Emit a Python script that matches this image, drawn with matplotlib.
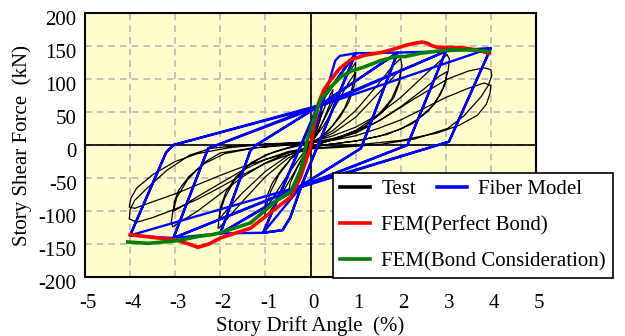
import matplotlib
matplotlib.use("Agg")
import matplotlib.pyplot as plt
import matplotlib.transforms as mtransforms
from matplotlib.lines import Line2D

plt.rcParams['font.family'] = ['Liberation Serif', 'DejaVu Serif']

# ---- data (drift %, shear kN) ----
test_x = [0, 0.1, 0.2, 0.25, 0.2, 0.1, 0, -0.1, -0.2, -0.25, -0.2, -0.1, 0,
          0.15, 0.3, 0.45, 0.5, 0.45, 0.3, 0.15, 0, -0.15, -0.3, -0.45, -0.5, -0.45, -0.3, -0.15, 0,
          0.25, 0.5, 0.75, 0.95, 1.0, 0.98, 0.9, 0.75, 0.5, 0.25, 0, -0.25, -0.5, -0.75, -0.95, -1.02,
          -0.98, -0.88, -0.7, -0.45, -0.2, 0,
          0.3, 0.6, 0.85, 1.0, 0.97, 0.85, 0.65, 0.4, 0.15, -0.05, -0.3, -0.6, -0.85, -1.02, -0.98,
          -0.85, -0.65, -0.4, -0.15, 0,
          0.5, 1.0, 1.5, 1.8, 2.0, 2.03, 1.96, 1.8, 1.5, 1.0, 0.5, 0, -0.5, -1.0, -1.5, -1.8, -2.0,
          -2.05, -2.02, -1.9, -1.7, -1.4, -1.0, -0.5, 0,
          0.5, 1.0, 1.5, 1.85, 2.0, 1.98, 1.85, 1.6, 1.2, 0.6, 0, -0.5, -1.0, -1.5, -1.85, -2.02,
          -2.0, -1.88, -1.65, -1.3, -0.8, -0.3, 0,
          0.5, 1.0, 1.5, 2.0, 2.5, 2.85, 3.03, 3.08, 3.05, 2.95, 2.75, 2.4, 2.0, 1.5, 1.0, 0.3,
          -0.5, -1.0, -1.5, -2.0, -2.5, -2.9, -3.05, -3.09, -3.05, -2.96, -2.73, -2.37, -2.0,
          -1.33, -0.5, 0,
          0.5, 1.0, 1.5, 2.0, 2.5, 2.85, 3.02, 3.0, 2.87, 2.62, 2.25, 1.7, 1.0, 0.3, -0.5, -1.0,
          -1.5, -2.0, -2.5, -2.85, -3.03, -3.02, -2.92, -2.7, -2.35, -1.9, -1.2, -0.5, 0,
          0.5, 1.0, 1.56, 2.3, 3.04, 3.5, 3.85, 4.0, 4.02, 3.94, 3.78, 3.4, 3.04, 2.3, 1.56, 0.8,
          0, -0.5, -1.0, -1.5, -2.0, -2.5, -3.0, -3.5, -3.85, -4.02, -4.0, -3.9, -3.6, -3.18,
          -2.67, -2.2, -1.5, -0.5, 0,
          0.5, 1.0, 1.5, 2.0, 2.5, 3.0, 3.5, 3.85, 4.0, 3.98, 3.9, 3.7, 3.3, 2.8, 2.0, 1.0, 0,
          -0.5, -1.0, -1.5, -2.0, -2.5, -3.0, -3.5, -3.9, -4.02, -3.98, -3.85, -3.5, -3.0, -2.5,
          -1.8, -1.0, 0]
test_y = [0, 25, 45, 52, 35, 15, 2, -22, -42, -48, -32, -12, 0,
          28, 55, 78, 84, 65, 40, 18, 3, -26, -50, -70, -76, -58, -35, -15, 0,
          32, 65, 97, 120, 125, 105, 80, 55, 30, 12, 0, -28, -58, -86, -105, -110,
          -92, -70, -45, -22, -8, 2,
          30, 65, 95, 110, 90, 65, 42, 22, 8, -2, -25, -55, -82, -98, -80,
          -58, -38, -18, -5, 3,
          22, 52, 92, 118, 131, 120, 95, 70, 45, 22, 8, -2, -20, -48, -85, -108, -124,
          -126, -105, -80, -55, -32, -15, -5, 3,
          18, 42, 78, 104, 115, 95, 72, 50, 28, 10, -2, -16, -40, -72, -98, -112,
          -95, -72, -48, -26, -10, 0, 4,
          14, 27, 46, 72, 104, 126, 137, 130, 112, 88, 62, 40, 24, 13, 6, 0,
          -12, -27, -48, -74, -100, -117, -124, -118, -100, -79, -53, -27, -12,
          -5, 0, 3,
          10, 20, 36, 58, 84, 104, 111, 95, 75, 52, 32, 16, 6, 0, -10, -22,
          -38, -58, -78, -93, -100, -86, -68, -48, -28, -13, -4, 1, 3,
          8, 18, 38, 70, 100, 112, 117, 114, 105, 90, 73, 44, 25, 9, 1, -3,
          -6, -15, -28, -45, -64, -82, -97, -110, -117, -112, -98, -84, -64, -38,
          -15, -5, 0, 3, 5,
          7, 14, 25, 38, 55, 72, 86, 94, 90, 78, 62, 45, 30, 18, 7, 0, -5,
          -12, -22, -33, -46, -60, -74, -86, -96, -94, -80, -65, -45, -25, -13,
          -4, 1, 4]

fiber_x = [0, 0.55, 0.65, 1.0, -0.2, -0.45, -0.62, -1.05, 0.15,
           1.0, -0.22, -1.05, 0.18,
           1.0, 1.93, 1.12, -0.2, -0.45, -0.62, -1.05, -2.0, -1.33, -1.2, 0.12,
           1.93, 1.12, -0.18, -2.0, -1.33, -1.2, 0.15,
           1.93, 3.0, 2.15, -0.22, -2.0, -3.04, -2.27, -2.07, 0.18,
           3.0, 2.15, -0.2, -3.04, -2.27, -2.07, 0.12,
           3.0, 4.0, 3.07, -0.22, -3.04, -4.0, -3.2, -3.04, 0.15,
           4.0, 3.07, -0.2, -4.0, -3.2, -3.04, 0.18]
fiber_y = [0, 128, 135, 139, -62, -110, -129, -133, 58,
           139, -64, -133, 60,
           139, 140, -5, -62, -110, -129, -133, -134, -8, 0, 56,
           140, -5, -60, -134, -8, 0, 58,
           140, 142, 0, -64, -134, -141, -5, 0, 60,
           142, 0, -62, -141, -5, 0, 56,
           142, 147, 5, -64, -141, -137, -11, 0, 58,
           147, 5, -62, -137, -11, 0, 60]

perfect_x = [-4.0, -3.5, -2.96, -2.7, -2.5, -2.25, -2.0, -1.33, -0.73, -0.44, -0.22, 0.0,
             0.08, 0.18, 0.3, 0.44, 0.65, 0.89, 1.2, 1.56, 1.78, 2.11, 2.3, 2.48, 2.6, 2.67,
             2.81, 3.1, 3.4, 3.7, 3.96]
perfect_y = [-136, -140, -144, -150, -155, -150, -141, -126, -94, -79, -48, -3,
             30, 64, 84, 98, 116, 129, 136, 140, 144, 151, 154, 156, 154, 151,
             148, 148, 147, 144, 139]

bond_x = [-4.05, -3.6, -2.96, -2.44, -2.2, -2.0, -1.33, -0.73, -0.44, -0.22, -0.07, 0.1,
          0.22, 0.45, 0.67, 0.9, 1.18, 1.56, 1.89, 2.1, 2.44, 2.8, 3.04, 3.5, 3.96]
bond_y = [-147, -149, -145, -138, -136, -133, -118, -83, -71, -38, 8, 45,
          68, 88, 103, 112, 118, 128, 134, 134, 139, 142, 144, 144, 142]

x_ticks = [-5, -4, -3, -2, -1, 0, 1, 2, 3, 4, 5]
y_ticks = [-200, -150, -100, -50, 0, 50, 100, 150, 200]

FS = 15

fig = plt.figure(figsize=(6.25, 3.36), dpi=100)
ax = fig.add_axes([0.136, 0.1756, 0.7216, 0.7857])
ax.set_facecolor('#FFFDCC')

ax.grid(True, color='#B8B8B8', linestyle=(0, (4, 3)), linewidth=1.2)
ax.set_axisbelow(True)
ax.axhline(0, color='black', lw=1.2, zorder=1)
ax.axvline(0, color='black', lw=1.2, zorder=1)

ax.plot(test_x, test_y, color='black', lw=0.9, zorder=2)
ax.plot(fiber_x, fiber_y, color='#0000FF', lw=1.7, zorder=3)
ax.plot(perfect_x, perfect_y, color='#FF0000', lw=2.6, zorder=4)
ax.plot(bond_x, bond_y, color='#008000', lw=2.6, zorder=5)

ax.set_xlim(-5, 5)
ax.set_ylim(-200, 200)
ax.set_xticks(x_ticks)
ax.set_yticks(y_ticks)
ax.set_xticklabels([str(v) for v in x_ticks])
ax.set_yticklabels([str(v) for v in y_ticks])
ax.tick_params(length=0, labelsize=FS)
ax.tick_params(axis='x', pad=12)
ax.tick_params(axis='y', pad=6)
for sp in ax.spines.values():
    sp.set_linewidth(1.5)

dy = mtransforms.ScaledTranslation(0, -0.05, fig.dpi_scale_trans)
for lab in ax.get_yticklabels():
    lab.set_transform(lab.get_transform() + dy)
dx = mtransforms.ScaledTranslation(0.03, 0, fig.dpi_scale_trans)
for lab in ax.get_xticklabels():
    lab.set_transform(lab.get_transform() + dx)

ax.set_xlabel('Story Drift Angle  (%)', fontsize=FS)
ax.set_ylabel('Story Shear Force  (kN)', fontsize=FS)
ax.xaxis.set_label_coords(0.5, -0.185)
ax.xaxis.label.set_va('center')
ax.yaxis.set_label_coords(-0.14, 0.5)
ax.yaxis.label.set_va('center')

h_test = Line2D([], [], color='black', lw=2.6)
h_fiber = Line2D([], [], color='#0000FF', lw=2.6)
h_pb = Line2D([], [], color='#FF0000', lw=2.6)
h_bc = Line2D([], [], color='#008000', lw=2.6)

leg_top = 0.394
leg = ax.legend([h_test, h_pb, h_bc],
                ['Test', 'FEM(Perfect Bond)', 'FEM(Bond Consideration)'],
                loc='upper left', bbox_to_anchor=(0.55, leg_top), fontsize=FS,
                frameon=True, fancybox=False, edgecolor='black', framealpha=1,
                borderpad=0.32, labelspacing=0.8, handlelength=1.45,
                handletextpad=0.55, borderaxespad=0)
leg.get_frame().set_linewidth(1.2)
leg.set_zorder(10)
ax.add_artist(leg)
leg2 = ax.legend([h_fiber], ['Fiber Model'], loc='upper left',
                 bbox_to_anchor=(0.765, leg_top), fontsize=FS, frameon=False,
                 borderpad=0.32, handlelength=1.45, handletextpad=0.55, borderaxespad=0)
leg2.set_zorder(11)

fig.savefig('out.png', dpi=100)
